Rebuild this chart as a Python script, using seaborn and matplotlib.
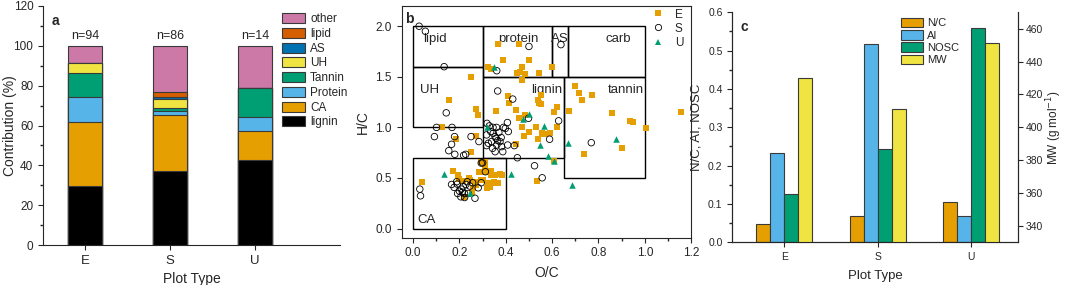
import numpy as np
import pandas as pd
import matplotlib
matplotlib.use("Agg")
import matplotlib.pyplot as plt
import seaborn as sns
from matplotlib.patches import Patch, Rectangle
from matplotlib.lines import Line2D
from matplotlib.ticker import MultipleLocator, FormatStrFormatter

sns.set_theme(style="ticks")
plt.rcParams['font.family'] = ['Liberation Sans', 'DejaVu Sans']
plt.rcParams['axes.linewidth'] = 0.8
plt.rcParams['xtick.major.width'] = 0.8
plt.rcParams['ytick.major.width'] = 0.8

# ---------------- data: panel a ----------------
plot_types = ["E", "S", "U"]
n_labels = ["n=94", "n=86", "n=14"]
classes = ["lignin", "CA", "Protein", "Tannin", "UH", "AS", "lipid", "other"]
lignin = [29.8, 37.2, 42.9]
ca = [31.9, 27.9, 14.3]
protein = [12.8, 2.3, 7.1]
tannin = [11.7, 1.2, 14.3]
uh = [5.3, 4.7, 0.0]
as_ = [0.0, 1.2, 0.0]
lipid = [0.0, 2.3, 0.0]
other = [8.5, 23.3, 21.4]
class_colors = ["#000000", "#E69F00", "#56B4E9", "#009E73", "#F0E442",
                "#0072B2", "#D55E00", "#CC79A7"]

# ---------------- data: panel b (van Krevelen) ----------------
E_oc = [0.365, 0.458, 0.389, 0.50, 0.322, 0.336, 0.469, 0.45, 0.484, 0.47, 0.545, 0.60, 0.46,
        0.251, 0.157, 0.271, 0.28, 0.124,
        0.411, 0.414, 0.357, 0.445, 0.541, 0.551, 0.545, 0.55, 0.609, 0.62, 0.455, 0.485,
        0.469, 0.53, 0.62, 0.50, 0.48, 0.556, 0.566, 0.589, 0.54, 0.443,
        0.606, 0.534,
        0.70, 0.716, 0.729, 0.774, 0.671, 0.859, 0.935, 0.951, 1.003, 0.902, 0.736, 1.154,
        0.273, 0.186, 0.25,
        0.294, 0.31, 0.336, 0.039, 0.173, 0.195, 0.286, 0.31, 0.336, 0.354, 0.375, 0.247,
        0.265, 0.293, 0.322, 0.342, 0.35, 0.32, 0.221, 0.26, 0.20, 0.24, 0.385, 0.27,
        0.33, 0.365, 0.30, 0.215, 0.255, 0.31]
E_hc = [1.82, 1.82, 1.67, 1.67, 1.60, 1.58, 1.60, 1.54, 1.53, 1.47, 1.54, 1.60, 1.55,
        1.50, 1.27, 1.18, 1.12, 1.00,
        1.31, 1.24, 1.16, 1.17, 1.27, 1.23, 1.24, 1.32, 1.157, 1.20, 1.09, 1.12,
        1.00, 1.00, 1.00, 0.952, 0.916, 0.948, 0.935, 0.94, 0.886, 0.836,
        0.668, 0.469,
        1.405, 1.34, 1.27, 1.32, 1.167, 1.147, 1.067, 1.05, 0.997, 0.80, 0.734, 1.15,
        0.915, 0.883, 0.754,
        0.66, 0.654, 0.571, 0.46, 0.568, 0.529, 0.562, 0.562, 0.529, 0.529, 0.535, 0.479,
        0.46, 0.485, 0.453, 0.446, 0.463, 0.40, 0.314, 0.40, 0.49, 0.50, 0.53, 0.43,
        0.41, 0.45, 0.48, 0.47, 0.35, 0.62]

S_oc = [0.026, 0.053, 0.134, 0.361, 0.50, 0.638,
        0.365, 0.43, 0.143, 0.101, 0.168, 0.092, 0.179, 0.166, 0.154, 0.18, 0.218, 0.227,
        0.25, 0.284, 0.294, 0.312,
        0.319, 0.329, 0.345, 0.36, 0.317, 0.335, 0.346, 0.354, 0.339, 0.325, 0.358, 0.361,
        0.382, 0.343, 0.354, 0.387, 0.407, 0.398, 0.411, 0.375, 0.408, 0.437, 0.45, 0.317,
        0.39, 0.37, 0.38, 0.365,
        0.498, 0.628, 0.589, 0.524, 0.557, 0.769,
        0.029, 0.032, 0.166, 0.188, 0.177, 0.192, 0.20, 0.206, 0.216, 0.228, 0.234, 0.208,
        0.222, 0.257, 0.281, 0.294, 0.267, 0.222, 0.238, 0.245, 0.19, 0.213, 0.30]
S_hc = [2.00, 1.95, 1.60, 1.56, 1.80, 1.818,
        1.36, 1.28, 1.144, 1.00, 1.00, 0.909, 0.909, 0.833, 0.77, 0.734, 0.724, 0.734,
        0.909, 0.86, 0.648, 0.562,
        1.04, 1.015, 1.00, 1.00, 0.926, 0.959, 0.942, 0.909, 0.86, 0.843, 0.893, 0.826,
        0.81, 0.793, 0.76, 0.76, 1.048, 0.99, 0.959, 0.86, 0.826, 0.82, 0.70, 0.82,
        1.00, 0.95, 0.90, 0.87,
        1.09, 1.065, 0.883, 0.621, 0.502, 0.849,
        0.39, 0.324, 0.436, 0.463, 0.407, 0.347, 0.37, 0.314, 0.413, 0.436, 0.463, 0.39,
        0.347, 0.453, 0.403, 0.453, 0.30, 0.307, 0.347, 0.42, 0.44, 0.36, 0.65]

U_oc = [0.351, 0.317, 0.133, 0.245, 0.423, 0.476, 0.50, 0.566, 0.546, 0.584, 0.61, 0.668,
        0.686, 0.877]
U_hc = [1.60, 1.00, 0.54, 0.354, 0.539, 1.084, 1.13, 1.01, 0.83, 0.717, 0.67, 0.843,
        0.427, 0.883]

# region boxes: name, O/C min, O/C max, H/C min, H/C max
box_names = ["lipid", "protein", "AS", "carb", "UH", "lignin", "tannin", "CA"]
box_oc_min = [0.0, 0.3, 0.6, 0.67, 0.0, 0.3, 0.65, 0.0]
box_oc_max = [0.3, 0.6, 0.67, 1.0, 0.3, 0.65, 1.0, 0.4]
box_hc_min = [1.6, 1.5, 1.5, 1.5, 1.0, 0.7, 0.5, 0.0]
box_hc_max = [2.0, 2.0, 2.0, 2.0, 1.6, 1.5, 1.5, 0.7]

# ---------------- data: panel c ----------------
metrics = ["N/C", "AI", "NOSC", "MW"]
nc = [0.047, 0.069, 0.104]
ai = [0.234, 0.518, 0.068]
nosc = [0.126, 0.244, 0.558]
mw = [430.0, 411.0, 451.5]
metric_colors = ["#E69F00", "#56B4E9", "#009E73", "#F0E442"]

# ---------------- figure ----------------
fig = plt.figure(figsize=(10.65, 2.85), dpi=100)
axa = fig.add_axes([0.0404, 0.140, 0.2786, 0.839])
axb = fig.add_axes([0.377, 0.166, 0.272, 0.813])
axc = fig.add_axes([0.6876, 0.150, 0.2680, 0.807])

edge = "#3a3a3a"

# ---- panel a: stacked bars ----
seg = [lignin, ca, protein, tannin, uh, as_, lipid, other]
cum = np.cumsum(np.array(seg), axis=0)
for i in reversed(range(len(classes))):
    sns.barplot(x=plot_types, y=cum[i], color=class_colors[i], saturation=1,
                width=0.4, edgecolor=edge, linewidth=0.8, ax=axa)
axa.set_xlim(-0.5, 3.0)
axa.set_ylim(0, 120)
axa.yaxis.set_major_locator(MultipleLocator(20))
axa.yaxis.set_minor_locator(MultipleLocator(10))
axa.tick_params(axis='both', which='major', labelsize=8.5, length=3.5, direction='out')
axa.tick_params(axis='y', which='minor', length=2)
axa.tick_params(axis='x', labelsize=9.5)
axa.set_ylabel("Contribution (%)", fontsize=10)
axa.yaxis.set_label_coords(-0.088, 0.5)
axa.set_xlabel("Plot Type", fontsize=10, labelpad=4)
sns.despine(ax=axa)
for k, lab in enumerate(n_labels):
    axa.text(k, 102, lab, ha='center', va='bottom', fontsize=9)
axa.text(0.03, 0.965, "a", transform=axa.transAxes, fontsize=10, fontweight='bold',
         va='top', ha='left')
handles_a = [Patch(facecolor=class_colors[i], edgecolor=edge, linewidth=0.8, label=classes[i])
             for i in reversed(range(len(classes)))]
axa.legend(handles=handles_a, loc='upper right', bbox_to_anchor=(1.05, 1.0), frameon=False,
           fontsize=8.5, handlelength=2.0, handleheight=0.95, labelspacing=0.22,
           handletextpad=0.4, borderaxespad=0.2)

# ---- panel b: van Krevelen ----
for name, x0, x1, y0, y1 in zip(box_names, box_oc_min, box_oc_max, box_hc_min, box_hc_max):
    axb.add_patch(Rectangle((x0, y0), x1 - x0, y1 - y0, fill=False, edgecolor='black',
                            linewidth=1.0, zorder=1))
lbl_fs = 9.5
axb.text(0.045, 1.87, "lipid", fontsize=lbl_fs, ha='left', va='center')
axb.text(0.455, 1.87, "protein", fontsize=lbl_fs, ha='center', va='center')
axb.text(0.635, 1.87, "AS", fontsize=lbl_fs, ha='center', va='center')
axb.text(0.885, 1.87, "carb", fontsize=lbl_fs, ha='center', va='center')
axb.text(0.03, 1.37, "UH", fontsize=lbl_fs, ha='left', va='center')
axb.text(0.645, 1.37, "lignin", fontsize=lbl_fs, ha='right', va='center')
axb.text(0.995, 1.37, "tannin", fontsize=lbl_fs, ha='right', va='center')
axb.text(0.02, 0.08, "CA", fontsize=lbl_fs, ha='left', va='center')

sns.scatterplot(x=E_oc, y=E_hc, marker='s', color="#E69F00", s=16, linewidth=0,
                ax=axb, zorder=3)
sns.scatterplot(x=S_oc, y=S_hc, marker='o', facecolor='none', edgecolor='black', s=22,
                linewidth=0.6, ax=axb, zorder=4)
sns.scatterplot(x=U_oc, y=U_hc, marker='^', color="#009E73", s=22, linewidth=0,
                ax=axb, zorder=5)
axb.set_xlim(-0.05, 1.2)
axb.set_ylim(-0.09, 2.2)
axb.xaxis.set_major_locator(MultipleLocator(0.2))
axb.xaxis.set_minor_locator(MultipleLocator(0.1))
axb.yaxis.set_major_locator(MultipleLocator(0.5))
axb.xaxis.set_major_formatter(FormatStrFormatter('%.1f'))
axb.yaxis.set_major_formatter(FormatStrFormatter('%.1f'))
axb.tick_params(axis='both', which='major', labelsize=8.5, length=3.5, direction='out')
axb.tick_params(axis='x', which='minor', length=2)
axb.set_xlabel("O/C", fontsize=10, labelpad=5)
axb.set_ylabel("H/C", fontsize=10, labelpad=4)
axb.text(0.012, 0.975, "b", transform=axb.transAxes, fontsize=10, fontweight='bold',
         va='top', ha='left')
handles_b = [Line2D([], [], marker='s', color='none', markerfacecolor="#E69F00",
                    markeredgewidth=0, markersize=4.5, label='E'),
             Line2D([], [], marker='o', color='none', markerfacecolor='none',
                    markeredgecolor='black', markeredgewidth=0.6, markersize=4.5, label='S'),
             Line2D([], [], marker='^', color='none', markerfacecolor="#009E73",
                    markeredgewidth=0, markersize=5, label='U')]
axb.legend(handles=handles_b, loc='upper right', bbox_to_anchor=(1.01, 1.035), frameon=False,
           fontsize=8.5, handlelength=1.2, handletextpad=0.8, labelspacing=0.18)

# ---- panel c: grouped bars with twin axis ----
left_metric = []
left_type = []
left_val = []
for m, vals in zip(metrics[:3], [nc, ai, nosc]):
    for t, v in zip(plot_types, vals):
        left_metric.append(m)
        left_type.append(t)
        left_val.append(v)
df_left = pd.DataFrame({"type": left_type, "metric": left_metric, "value": left_val})
df_right = pd.DataFrame({"type": plot_types, "metric": ["MW"] * 3, "value": mw})

sns.barplot(data=df_left, x="type", y="value", hue="metric", hue_order=metrics,
            order=plot_types, palette=metric_colors, saturation=1, width=0.6, dodge=True,
            edgecolor=edge, linewidth=0.8, legend=False, ax=axc)
axc2 = axc.twinx()
sns.barplot(data=df_right, x="type", y="value", hue="metric", hue_order=metrics,
            order=plot_types, palette=metric_colors, saturation=1, width=0.6, dodge=True,
            edgecolor=edge, linewidth=0.8, legend=False, ax=axc2)
for ax in (axc, axc2):
    ax.set_xlim(-0.555, 2.5)
axc.set_ylim(0, 0.6)
axc2.set_ylim(330, 470)
axc.yaxis.set_major_locator(MultipleLocator(0.1))
axc.yaxis.set_minor_locator(MultipleLocator(0.05))
axc2.set_yticks([340, 360, 380, 400, 420, 440, 460])
axc.yaxis.set_major_formatter(FormatStrFormatter('%.1f'))
axc.tick_params(axis='both', which='major', labelsize=7.5, length=3.5, direction='out')
axc.tick_params(axis='y', which='minor', length=2)
axc2.tick_params(axis='y', which='major', labelsize=7.5, length=3.5, direction='out', pad=2)
axc.set_xlabel("Plot Type", fontsize=9.5, labelpad=6)
axc.set_ylabel("N/C, AI, NOSC", fontsize=9.5, labelpad=4)
axc2.set_ylabel("MW (g mol$^{-1}$)", fontsize=8.5, labelpad=1.5)
axc.spines['top'].set_visible(False)
axc2.spines['top'].set_visible(False)
axc.text(0.03, 0.965, "c", transform=axc.transAxes, fontsize=10, fontweight='bold',
         va='top', ha='left')
handles_c = [Patch(facecolor=metric_colors[i], edgecolor=edge, linewidth=0.8,
                   label=metrics[i]) for i in range(4)]
axc.legend(handles=handles_c, loc='upper left', bbox_to_anchor=(0.57, 1.0), frameon=False,
           fontsize=8, handlelength=2.0, handleheight=0.95, labelspacing=0.15,
           handletextpad=0.4, borderaxespad=0.1)

fig.savefig("out.png", dpi=100)
